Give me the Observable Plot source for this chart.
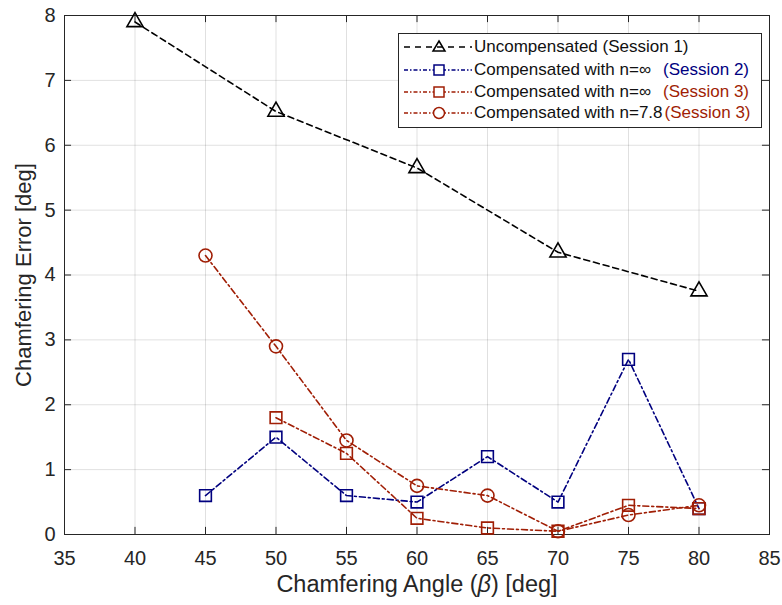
<!DOCTYPE html>
<html><head><meta charset="utf-8">
<script src="https://cdn.jsdelivr.net/npm/d3@7"></script>
<script src="https://cdn.jsdelivr.net/npm/@observablehq/plot@0.6"></script>
<style>
body{margin:0;background:#fff;font-family:"Liberation Sans",Arial,sans-serif;}
#wrap{position:relative;width:782px;height:605px;}
#legend{position:absolute;left:398px;top:33px;width:364px;height:95px;border:1px solid #262626;background:#fff;box-sizing:border-box;font-size:17px;color:#111;}
.row{position:absolute;left:3px;height:22px;display:flex;align-items:center;white-space:nowrap;}
.row svg{margin-right:2px;}
</style></head><body>
<div id="wrap"><div id="chart"></div><div id="legend"></div></div>
<script>
const anglesUncomp = [40, 50, 60, 70, 80];
const errUncomp = [7.9, 6.52, 5.65, 4.35, 3.75];
const anglesS2 = [45, 50, 55, 60, 65, 70, 75, 80];
const errS2Inf = [0.6, 1.5, 0.6, 0.5, 1.2, 0.5, 2.7, 0.4];
const anglesS3Inf = [50, 55, 60, 65, 70, 75, 80];
const errS3Inf = [1.8, 1.25, 0.25, 0.1, 0.05, 0.45, 0.4];
const anglesS3n = [45, 50, 55, 60, 65, 70, 75, 80];
const errS3n = [4.3, 2.9, 1.45, 0.75, 0.6, 0.05, 0.3, 0.45];
const xTicks = [35, 40, 45, 50, 55, 60, 65, 70, 75, 80, 85];
const yTicks = [0, 1, 2, 3, 4, 5, 6, 7, 8];

const BLACK = "#000000", BLUE = "#00007f", RED = "#a01e05";
const toRows = (xs, ys) => xs.map((x, i) => ({x, y: ys[i]}));
const s1 = toRows(anglesUncomp, errUncomp);
const s2 = toRows(anglesS2, errS2Inf);
const s3 = toRows(anglesS3Inf, errS3Inf);
const s4 = toRows(anglesS3n, errS3n);

const axisColor = "#262626";
const plot = Plot.plot({
  width: 782, height: 605,
  marginLeft: 64, marginRight: 13, marginTop: 15, marginBottom: 71,
  style: {fontFamily: "'Liberation Sans', Arial, sans-serif", fontSize: "20px", color: axisColor, background: "#fff"},
  x: {domain: [35, 85], ticks: xTicks, tickSize: 0, label: null},
  y: {domain: [0, 8], ticks: yTicks, tickSize: 0, label: null},
  marks: [
    Plot.gridX(xTicks, {stroke: "#000", strokeOpacity: 0.12}),
    Plot.gridY(yTicks, {stroke: "#000", strokeOpacity: 0.12}),
    Plot.ruleX(xTicks, {y1: 0, y2: 0.11, stroke: axisColor}),
    Plot.ruleX(xTicks, {y1: 7.89, y2: 8, stroke: axisColor}),
    Plot.ruleY(yTicks, {x1: 35, x2: 35.5, stroke: axisColor}),
    Plot.ruleY(yTicks, {x1: 84.5, x2: 85, stroke: axisColor}),
    Plot.frame({stroke: axisColor, strokeWidth: 1}),
    Plot.axisX({ticks: xTicks, tickSize: 0, tickPadding: 16, fontSize: 20, label: null}),
    Plot.axisY({ticks: yTicks, tickSize: 0, tickPadding: 9, fontSize: 20, label: null}),
    Plot.line(s1, {x: "x", y: "y", stroke: BLACK, strokeWidth: 1.6, strokeDasharray: "6,4"}),
    Plot.dot(s1, {x: "x", y: "y", symbol: "triangle", r: 6, stroke: BLACK, fill: "none", strokeWidth: 1.6}),
    Plot.line(s2, {x: "x", y: "y", stroke: BLUE, strokeWidth: 1.6, strokeDasharray: "6,3,2,3"}),
    Plot.dot(s2, {x: "x", y: "y", symbol: "square", r: 6.6, stroke: BLUE, fill: "none", strokeWidth: 1.6}),
    Plot.line(s3, {x: "x", y: "y", stroke: RED, strokeWidth: 1.6, strokeDasharray: "6,3,2,3"}),
    Plot.dot(s3, {x: "x", y: "y", symbol: "square", r: 6.6, stroke: RED, fill: "none", strokeWidth: 1.6}),
    Plot.line(s4, {x: "x", y: "y", stroke: RED, strokeWidth: 1.6, strokeDasharray: "6,3,2,3"}),
    Plot.dot(s4, {x: "x", y: "y", symbol: "circle", r: 6.5, stroke: RED, fill: "none", strokeWidth: 1.6}),
    Plot.text(["Chamfering Angle (β) [deg]"], {frameAnchor: "bottom", dy: 57, fontSize: 23.5, fill: axisColor, textAnchor: "middle"}),
    Plot.text(["Chamfering Error [deg]"], {frameAnchor: "left", dx: -41, rotate: -90, fontSize: 22, fill: axisColor, textAnchor: "middle"})
  ]
});
document.getElementById("chart").appendChild(plot);
// make the beta italic
plot.querySelectorAll("text").forEach(t => {
  if (t.textContent === "Chamfering Angle (β) [deg]") {
    t.textContent = "";
    const parts = [["Chamfering Angle (", false], ["β", true], [") [deg]", false]];
    parts.forEach(([s, it]) => {
      const ts = document.createElementNS("http://www.w3.org/2000/svg", "tspan");
      ts.textContent = s;
      if (it) ts.setAttribute("font-style", "italic");
      t.appendChild(ts);
    });
  }
});

// Legend
const leg = document.getElementById("legend");
const legendItems = [
  {main: "Uncompensated (Session 1)", tag: "", color: BLACK, dash: "6,5", sym: "tri", tagColor: BLACK},
  {main: "Compensated with n=∞", tag: "(Session 2)", color: BLUE, dash: "4,2,1.5,2", sym: "sq", tagColor: BLUE},
  {main: "Compensated with n=∞", tag: "(Session 3)", color: RED, dash: "4,2,1.5,2", sym: "sq", tagColor: RED},
  {main: "Compensated with n=7.8", tag: "(Session 3)", color: RED, dash: "4,2,1.5,2", sym: "ci", tagColor: RED}
];
const tops = [2, 25, 47, 68];
legendItems.forEach((it, i) => {
  const row = document.createElement("div");
  row.className = "row";
  row.style.top = tops[i] + "px";
  let sym = "";
  if (it.sym === "tri") sym = `<path d="M37,4 L43,14 L31,14 Z" fill="none" stroke="${it.color}" stroke-width="1.5"/>`;
  if (it.sym === "sq") sym = `<rect x="32" y="5" width="10" height="10" fill="white" stroke="${it.color}" stroke-width="1.5"/>`;
  if (it.sym === "ci") sym = `<circle cx="37" cy="10" r="5.5" fill="white" stroke="${it.color}" stroke-width="1.5"/>`;
  row.innerHTML = `<svg width="70" height="20"><line x1="2" y1="10" x2="70" y2="10" stroke="${it.color}" stroke-width="1.5" stroke-dasharray="${it.dash}"/>${sym}</svg>` +
    `<span>${it.main}</span>` + (it.tag ? `<span style="color:${it.tagColor};margin-left:${i===3?2:12}px">${it.tag}</span>` : "");
  leg.appendChild(row);
});
</script>
</body></html>
